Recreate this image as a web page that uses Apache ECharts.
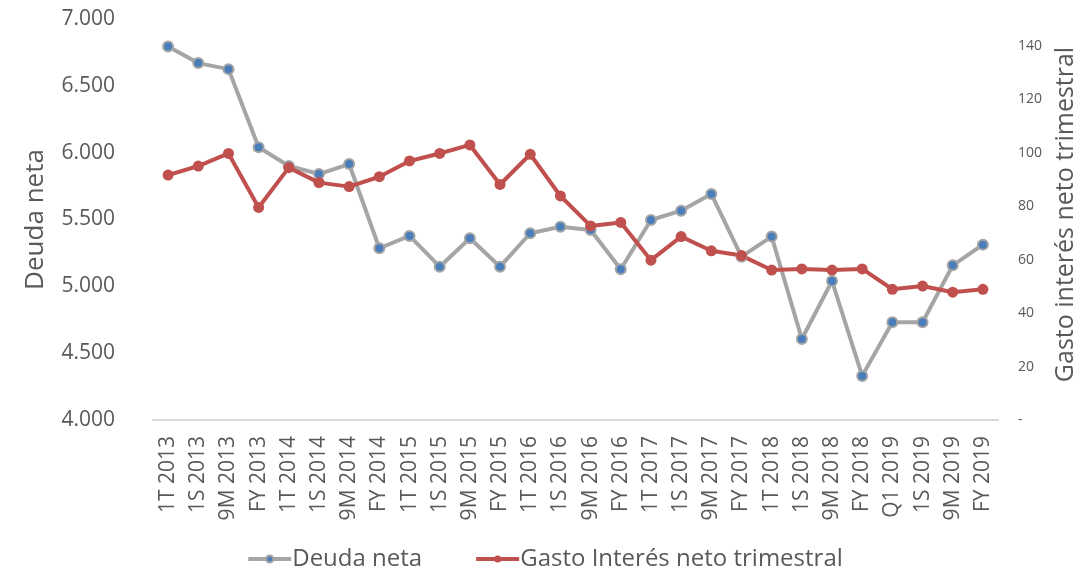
<!DOCTYPE html>
<html>
<head>
<meta charset="utf-8">
<style>
  html, body { margin: 0; padding: 0; background: #fff; }
  .chart { width: 1089px; height: 570px; }
</style>
<script src="https://cdn.jsdelivr.net/npm/echarts@6/dist/echarts.min.js"></script>
</head>
<body>
<div class="chart"></div>
<script>
// 数据
const categories = ['1T 2013', '1S 2013', '9M 2013', 'FY 2013', '1T 2014', '1S 2014', '9M 2014', 'FY 2014',
  '1T 2015', '1S 2015', '9M 2015', 'FY 2015', '1T 2016', '1S 2016', '9M 2016', 'FY 2016',
  '1T 2017', '1S 2017', '9M 2017', 'FY 2017', '1T 2018', '1S 2018', '9M 2018', 'FY 2018',
  'Q1 2019', '1S 2019', '9M 2019', 'FY 2019'];
// Deuda neta (eje izquierdo)
const deudaNeta = [6795, 6670, 6625, 6040, 5900, 5840, 5915, 5285,
  5377, 5147, 5360, 5147, 5397, 5446, 5422, 5128,
  5496, 5566, 5691, 5222, 5372, 4606, 5040, 4330,
  4731, 4731, 5157, 5312];
// Gasto interés neto trimestral (eje derecho)
const gastoInteres = [91.6, 95.0, 99.7, 79.5, 94.4, 88.8, 87.3, 91.0,
  96.9, 99.7, 102.9, 88.1, 99.4, 83.8, 72.6, 73.9,
  59.8, 68.6, 63.3, 61.5, 56.1, 56.5, 56.1, 56.5,
  48.9, 50.1, 47.8, 48.9];
const leftTicks = [4000, 7000, 500];   // min, max, interval
const rightTicks = [0, 150, 20];

(function () {
  const myChart = echarts.init(document.querySelector('.chart'));
  const labelColor = '#595959';
  const font = 'Open Sans';

  let option = {
    animation: false,
    textStyle: { fontFamily: font },
    grid: {
      left: 153,
      right: 91,
      top: 19,
      bottom: 150,
      containLabel: false,
      outerBoundsMode: 'none'
    },
    legend: {
      data: ['Deuda neta', 'Gasto Interés neto trimestral'],
      left: 'center',
      top: 542,
      itemWidth: 43,
      itemHeight: 9,
      itemGap: 52,
      lineStyle: { width: 4 },
      textStyle: {
        color: labelColor,
        fontSize: 24,
        fontFamily: font,
        padding: [0, 0, 0, -4]
      }
    },
    xAxis: {
      type: 'category',
      data: categories,
      axisTick: { show: false },
      axisLine: {
        lineStyle: { color: '#d9d9d9', width: 2 }
      },
      axisLabel: {
        color: labelColor,
        fontSize: 21,
        fontFamily: font,
        rotate: 90,
        interval: 0,
        margin: 16
      }
    },
    yAxis: [{
        type: 'value',
        min: leftTicks[0],
        max: leftTicks[1],
        interval: leftTicks[2],
        name: 'Deuda neta',
        nameLocation: 'middle',
        nameRotate: 90,
        nameGap: 104,
        nameTextStyle: { color: labelColor, fontSize: 26, fontFamily: font },
        splitLine: { show: false },
        axisLine: { show: false },
        axisTick: { show: false },
        axisLabel: {
          color: labelColor,
          fontSize: 21,
          fontFamily: font,
          margin: 38,
          formatter: function (v) {
            return v.toLocaleString('de-DE');
          }
        }
      },
      {
        type: 'value',
        min: rightTicks[0],
        max: rightTicks[1],
        interval: rightTicks[2],
        name: 'Gasto interés neto trimestral',
        nameLocation: 'middle',
        nameRotate: 90,
        nameGap: 50,
        nameTextStyle: { color: labelColor, fontSize: 25, fontFamily: font, padding: [0, 0, 0, 10] },
        splitLine: { show: false },
        axisLine: { show: false },
        axisTick: { show: false },
        axisLabel: {
          color: labelColor,
          fontSize: 14,
          fontFamily: font,
          margin: 20,
          showMaxLabel: false,
          formatter: function (v) {
            return v === 0 ? '-' : v;
          }
        }
      }
    ],
    series: [{
        name: 'Deuda neta',
        type: 'line',
        yAxisIndex: 0,
        data: deudaNeta,
        symbol: 'circle',
        symbolSize: 10,
        lineStyle: { color: '#a5a5a5', width: 4 },
        itemStyle: {
          color: '#4a7ebb',
          borderColor: '#a5a5a5',
          borderWidth: 2
        }
      },
      {
        name: 'Gasto Interés neto trimestral',
        type: 'line',
        yAxisIndex: 1,
        data: gastoInteres,
        symbol: 'circle',
        symbolSize: 11,
        lineStyle: { color: '#c0504d', width: 4 },
        itemStyle: { color: '#c0504d' }
      }
    ]
  };
  myChart.setOption(option);
  window.addEventListener('resize', function () {
    myChart.resize();
  });
})();
</script>
</body>
</html>
